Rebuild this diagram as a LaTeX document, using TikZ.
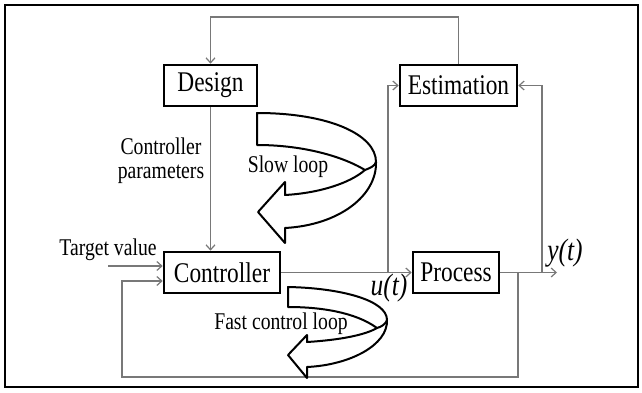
\documentclass[tikz,border=0pt]{standalone}
\usepackage{fontspec}
\setmainfont[FakeStretch=0.82]{Liberation Serif}
\usetikzlibrary{arrows.meta}
\definecolor{leitungsgrau}{RGB}{120,120,120}

\begin{document}
\begin{tikzpicture}[x=1pt,y=-1pt,
    block/.style={draw,line width=2.6pt,minimum height=41pt,inner sep=0pt,font=\fontsize{28.5}{32}\selectfont},
    pfeil/.style={draw=leitungsgrau,line width=1.2pt,-{Straight Barb[length=5pt,width=9pt]}},
    beschriftung/.style={font=\fontsize{24}{24}\selectfont,inner sep=0pt},
    signal/.style={font=\fontsize{31}{32}\selectfont\itshape,inner sep=0pt},
    schleife/.style={draw=black,fill=white,line width=2pt,line join=round}]

    % Rahmen
    \useasboundingbox (0,0) rectangle (642,393);
    \draw[line width=2.5pt] (5,5) rectangle (638,387);

    % Bloecke
    \node[block,minimum width=93pt] (design) at (210.5,85.5) {Design};
    \node[block,minimum width=117pt] (estimation) at (458.5,85.5) {Estimation};
    \node[block,minimum width=116pt] (controller) at (222,272.5) {Controller};
    \node[block,minimum width=86pt] (process) at (456,272.5) {Process};

    % Hilfspunkte
    \coordinate (oben) at (334,17);
    \coordinate (abzweigu) at (388,272.5);
    \coordinate (abzweigy) at (542,272.5);
    \coordinate (rueck) at (518,272.5);
    \coordinate (yende) at (557,272.5);
    \coordinate (sollstart) at (108,266);

    % Verbindungen
    \draw[pfeil] (estimation.north) |- (oben) -| (design.north);
    \draw[pfeil] (design.south) -- (design.south |- controller.north);
    \draw[pfeil] (controller) -- (process);
    \draw[pfeil] (abzweigu) |- (estimation);
    \draw[pfeil] (process) -- (yende);
    \draw[pfeil] (abzweigy) |- (estimation);
    \draw[pfeil] (rueck) -- (518,377) -| (122,281) -- ([yshift=-8.5pt]controller.west);
    \draw[pfeil] (sollstart) -- (sollstart -| controller.west);

    % langsame Schleife
    \draw[schleife] (257,113) .. controls (330,113) and (376,135) .. (376,162)
        .. controls (377,195) and (340,225) .. (285,228) -- (285,243) -- (258,212)
        -- (285,182) -- (285,195) .. controls (320,193) and (350,183) .. (365,170)
        .. controls (340,155) and (300,145) .. (257,145) -- cycle;
    \draw[schleife,fill=none] (376,162) .. controls (375,166) and (370,168) .. (365,170);

    % schnelle Schleife
    \draw[schleife] (288,287) .. controls (340,288) and (387,300) .. (387,320)
        .. controls (388,345) and (350,365) .. (307,367) -- (307,378) -- (288,355)
        -- (307,335) -- (307,342) .. controls (340,340) and (365,335) .. (377,328)
        .. controls (355,312) and (320,307) .. (288,307) -- cycle;
    \draw[schleife,fill=none] (387,320) .. controls (386,324) and (381,327) .. (377,328);

    % Beschriftungen
    \node[beschriftung,align=center] (parameter) at (161,161) {Controller\\parameters};
    \node[beschriftung] (sollwert) at (108,250) {Target value};
    \node[beschriftung] (langsam) at (288,167) {Slow loop};
    \node[beschriftung] (schnell) at (281,324) {Fast control loop};
    \node[signal] (ut) at (389,288) {u(t)};
    \node[signal] (yt) at (565,253) {y(t)};
\end{tikzpicture}
\end{document}
